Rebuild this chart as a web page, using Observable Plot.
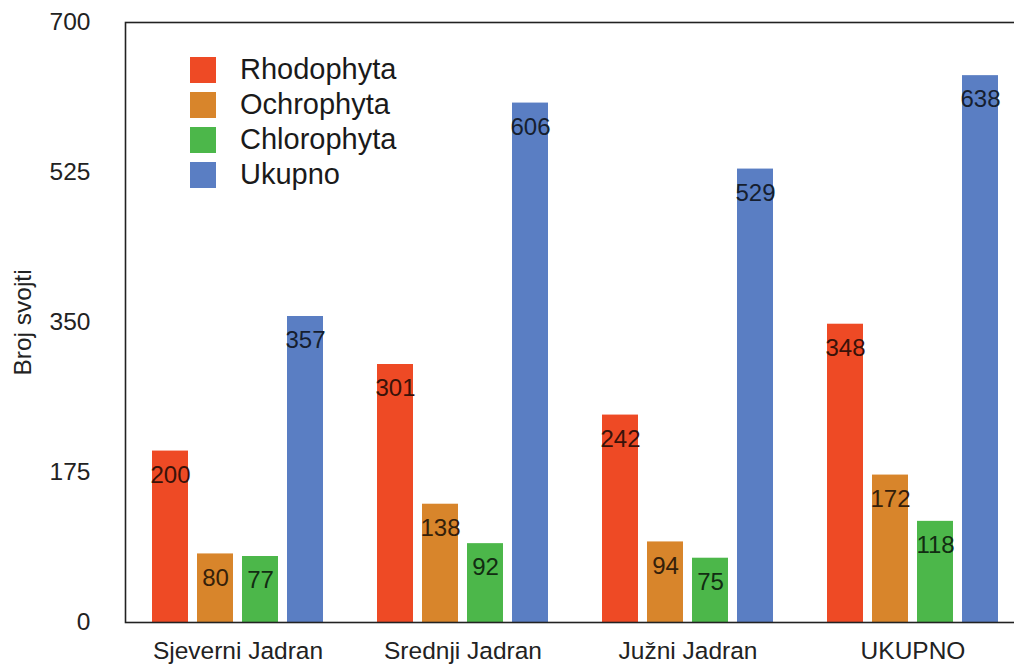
<!DOCTYPE html>
<html>
<head>
<meta charset="utf-8">
<script src="https://cdn.jsdelivr.net/npm/d3@7"></script>
<script src="https://cdn.jsdelivr.net/npm/@observablehq/plot@0.6"></script>
<style>
  html, body { margin: 0; padding: 0; background: #fff; }
  #wrap { position: relative; width: 1014px; height: 664px; overflow: hidden; font-family: "Liberation Sans", Arial, Helvetica, sans-serif; }
  #legend { position: absolute; left: 190px; top: 52px; font-size: 29px; color: #1a1a1a; }
  #legend .row { display: flex; align-items: center; height: 35px; }
  #legend .sw { width: 26px; height: 26px; margin-right: 24px; flex: none; }
</style>
</head>
<body>
<div id="wrap"><div id="legend"></div></div>
<script>
const groups = ["Sjeverni Jadran", "Srednji Jadran", "Južni Jadran", "UKUPNO"];
const seriesNames = ["Rhodophyta", "Ochrophyta", "Chlorophyta", "Ukupno"];
const rhodophyta = [200, 301, 242, 348];
const ochrophyta = [80, 138, 94, 172];
const chlorophyta = [77, 92, 75, 118];
const ukupno = [357, 606, 529, 638];
const colors = ["#ee4a25", "#d8852b", "#4cb74a", "#5a7ec3"];
const yTicks = [0, 175, 350, 525, 700];

const seriesValues = [rhodophyta, ochrophyta, chlorophyta, ukupno];
const data = [];
groups.forEach((g, i) => seriesNames.forEach((s, j) => data.push({group: g, series: s, value: seriesValues[j][i]})));

const labelMarks = seriesNames.map((s, j) =>
  Plot.text(data.filter(d => d.series === s), {
    fx: "group", x: "series", y: "value", text: d => String(d.value),
    dy: 24, fill: d3.color(colors[j]).darker(4).formatHex(), fontSize: 24
  })
);

const chart = Plot.plot({
  width: 1014,
  height: 664,
  marginTop: 22,
  marginBottom: 42,
  marginLeft: 125,
  marginRight: 1,
  style: {fontFamily: "'Liberation Sans', Arial, Helvetica, sans-serif", fontSize: "24.5px", color: "#222", background: "white"},
  fx: {domain: groups, range: [125, 1025], paddingInner: 0, paddingOuter: 0, label: null, tickSize: 0, tickPadding: 19, axis: "bottom"},
  x: {domain: seriesNames, paddingInner: 0.2, paddingOuter: 0.583, axis: null},
  y: {domain: [0, 700], ticks: yTicks, tickSize: 0, tickPadding: 35, label: "Broj svojti", labelAnchor: "center", labelOffset: 112, labelArrow: "none"},
  color: {domain: seriesNames, range: colors},
  marks: [
    Plot.barY(data, {fx: "group", x: "series", y: "value", fill: "series"}),
    ...labelMarks,
    Plot.frame({facet: "super", stroke: "#222", strokeWidth: 1.6})
  ]
});
document.getElementById("wrap").prepend(chart);

const legend = document.getElementById("legend");
seriesNames.forEach((s, j) => {
  const row = document.createElement("div");
  row.className = "row";
  const sw = document.createElement("div");
  sw.className = "sw";
  sw.style.background = colors[j];
  const t = document.createElement("span");
  t.textContent = s;
  row.append(sw, t);
  legend.append(row);
});
</script>
</body>
</html>
